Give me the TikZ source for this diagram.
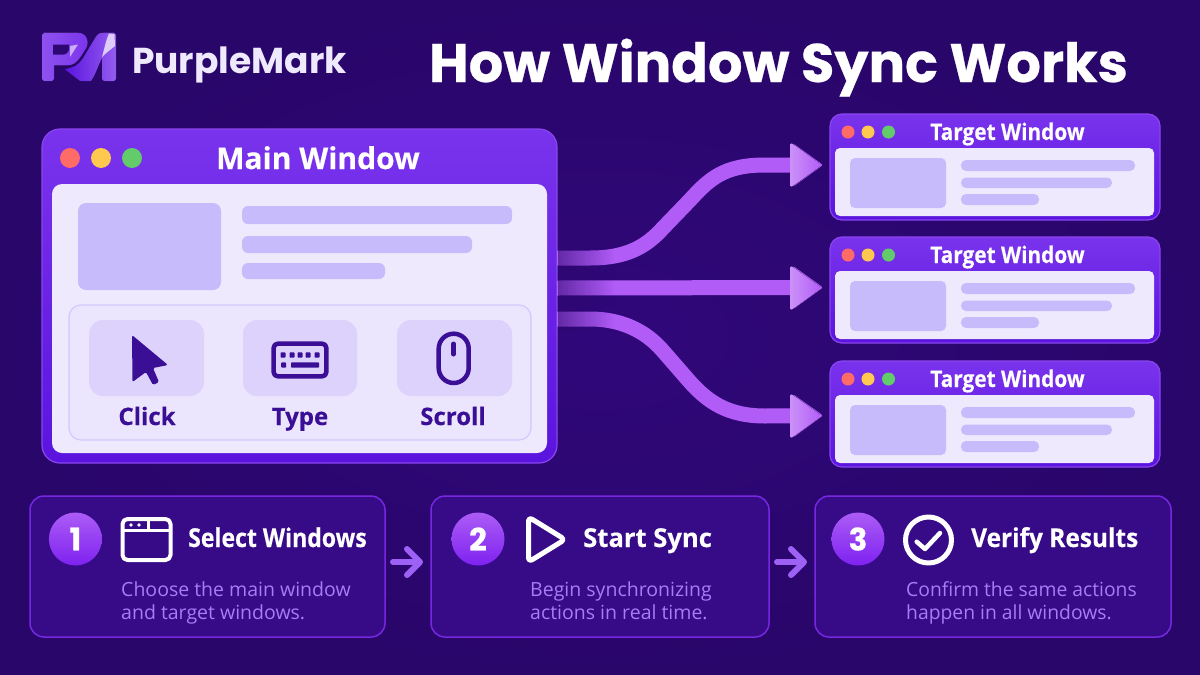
\documentclass[tikz,border=0pt]{standalone}
\usepackage{fontspec}
\setmainfont[BoldFeatures={FakeBold=0.35}]{Open Sans}
\newfontfamily\headfont[BoldFeatures={FakeBold=0.5}]{Poppins}
\newfontfamily\brandfont{Poppins}
\usetikzlibrary{arrows.meta,fadings,calc}
\definecolor{bgc}{HTML}{2E0872}
\definecolor{bgedge}{HTML}{29066A}
\definecolor{bgmid}{HTML}{30077A}
\definecolor{panel}{HTML}{EFE9FE}
\definecolor{ph}{HTML}{C8BBFB}
\definecolor{ink}{HTML}{3A0F96}
\definecolor{ribbon}{HTML}{B25CF8}
\definecolor{ribbonl}{HTML}{CB90F8}
\definecolor{stepfill}{HTML}{370A88}
\definecolor{stepline}{HTML}{7628E0}
\definecolor{sub}{HTML}{A87CF4}
\definecolor{steparr}{HTML}{9D62F5}
\definecolor{dotr}{HTML}{FF6B66}
\definecolor{doty}{HTML}{FFC94F}
\definecolor{dotg}{HTML}{62CC6A}
\definecolor{winT}{HTML}{7A33EC}
\definecolor{winB}{HTML}{5A14DE}
\definecolor{winL}{HTML}{8A45F0}
\definecolor{badgeT}{HTML}{AC5CF6}
\definecolor{badgeB}{HTML}{7E22F0}
\tikzset{
  winbox/.style={rectangle,inner sep=0pt,outer sep=0pt,rounded corners=#1,top color=winT,bottom color=winB,draw=winL,line width=1.2pt,anchor=north west},
  stepbox/.style={rectangle,inner sep=0pt,outer sep=0pt,rounded corners=14pt,fill=stepfill,draw=stepline,line width=1.5pt,anchor=north west,minimum height=141pt},
  flow/.style={line width=15pt,draw=ribbon,-{Triangle[length=31pt,width=44pt,line width=3pt,round]}},
  steparrow/.style={line width=6pt,draw=#1,line cap=round,-{Straight Barb[length=13pt,width=26pt,line width=6pt,round]}},
  badge/.style={circle,inner sep=0pt,outer sep=0pt,minimum size=53pt,top color=badgeT,bottom color=badgeB,text=white,font=\headfont\bfseries\fontsize{31}{31}\selectfont},
  steptitle/.style={anchor=base west,inner sep=0pt,text=white,font=\bfseries\fontsize{26}{26}\selectfont},
  stepdesc/.style={anchor=north west,inner sep=0pt,text=sub,align=left,font=\fontsize{19.5}{23}\selectfont},
  tilelabel/.style={anchor=base,inner sep=0pt,text=ink,font=\bfseries\fontsize{24}{24}\selectfont},
  icon/.style={draw=white,line width=4pt,line join=round,line cap=round},
  inkicon/.style={draw=ink,line width=4.5pt,line join=round},
}
\newcommand{\headtri}[1]{\fill[left color=ribbonl,right color=ribbon,rounded corners=1.5pt] (790.5,#1-22.5) -- (822,#1) -- (790.5,#1+22.5) -- cycle;}
\begin{document}
\begin{tikzpicture}[x=1pt,y=-1pt]
\useasboundingbox (0,0) rectangle (1200,675);
\shade[inner color=bgmid,outer color=bgedge] (0,0) rectangle (1200,675);

% logo mark
\fill[left color=winT!85!white,right color=winT] (42,35) to[out=-90,in=180] (44,32.7) -- (78,32.7) .. controls (88,32.7) and (90,44) .. (85,50) .. controls (80,58) and (76,65.3) .. (68,65.3) -- (54,65.3) -- (54,79) to[out=90,in=0] (52,81) -- (44,81) to[out=180,in=90] (42,79) -- cycle;
\fill[bgc] (53,44.5) -- (69,44.5) .. controls (70,50) and (68,54) .. (64,54.5) -- (53,54.5) -- cycle;
\fill[left color=winB,right color=winT!80!white] (64.3,69) .. controls (72,68) and (78,66) .. (83,58) -- (95,38) .. controls (98,33) and (100,32.7) .. (104,32.7) -- (114,32.7) to[out=0,in=-90] (116,35) -- (116,79) to[out=90,in=0] (114,81) -- (104,81) to[out=180,in=90] (102,79) -- (102,58) .. controls (98,66) and (95,76) .. (91,81) -- (80,81) -- cycle;
\fill[white!75!winT] (109,33.5) -- (114.5,34) -- (115,46) .. controls (110,50) and (106,53) .. (102,57) .. controls (104,50) and (106,40) .. (109,33.5) -- cycle;
\fill[white!60!winT] (70,46) -- (78,44.5) -- (70,57) -- cycle;
\node[anchor=base west,inner sep=0pt,text=panel,font=\brandfont\bfseries\fontsize{36}{36}\selectfont] (brand) at (132,73) {PurpleMark};
\node[anchor=base,inner sep=0pt,text=white,font=\headfont\bfseries\fontsize{54.2}{54}\selectfont] (title) at (778.5,82) {How Window Sync Works};

% main window
\node[winbox=18pt,minimum width=515pt,minimum height=334pt] (main) at (42,129) {};
\fill[panel,rounded corners=10pt] (52,184) rectangle (547,453);
\fill[dotr] (70,158) circle (10);
\fill[doty] (101,158) circle (10);
\fill[dotg] (132,158) circle (10);
\node[anchor=base,inner sep=0pt,text=white,font=\bfseries\fontsize{30}{30}\selectfont] (maintitle) at (318,169) {Main Window};
\fill[ph,rounded corners=8pt] (78,203) rectangle (221,290);
\fill[ph,rounded corners=6pt] (242,206) rectangle (512,224);
\fill[ph,rounded corners=6pt] (242,236) rectangle (472,253);
\fill[ph,rounded corners=6pt] (242,263) rectangle (385,279);
\filldraw[fill=panel!92!ph,draw=ph!80!white,line width=1.2pt,rounded corners=12pt] (69,305) rectangle (531,440);
\foreach \xa/\xb in {89/204,243/357,397/512}{\fill[ph!50!panel,rounded corners=14pt] (\xa,320) rectangle (\xb,396);}
\fill[ink,rounded corners=1.5pt] (132,335) -- (168,365) -- (153,368) -- (159,382) -- (153,385) -- (146,372) -- (132.5,382) -- cycle;
\draw[inkicon,rounded corners=4pt] (273.7,343.7) rectangle (326.3,376.3);
\foreach \x in {283,292,300,308,317}{\fill[ink,rounded corners=.8pt] (\x-2.5,352.4) rectangle (\x+2.5,357.6);}
\fill[ink,rounded corners=.8pt] (281.2,362.4) rectangle (286.2,367.6);
\fill[ink,rounded corners=.8pt] (291,362.4) rectangle (319,367.6);
\draw[inkicon,rounded corners=15pt] (438.7,333.7) rectangle (468.7,383);
\draw[ink,line width=5pt,line cap=round] (453.5,344) -- (453.5,354);
\node[tilelabel] (click) at (147,425) {Click};
\node[tilelabel] (type) at (300,425) {Type};
\node[tilelabel] (scroll) at (453,425) {Scroll};

% target windows
\foreach \i/\y in {1/114,2/237,3/361}{
\begin{scope}[shift={(0,\y)}]
\node[winbox=12pt,minimum width=330pt,minimum height=106pt] (t\i) at (830,0) {};
\fill[panel,rounded corners=5pt] (835,34) rectangle (1154,102);
\fill[dotr] (848,18) circle (6.5);
\fill[doty] (868,18) circle (6.5);
\fill[dotg] (888.5,18) circle (6.5);
\node[anchor=base,inner sep=0pt,text=white,font=\bfseries\fontsize{23}{23}\selectfont] (tt\i) at (1007.5,26) {\scalebox{.905}[1]{Target Window}};
\fill[ph,rounded corners=5pt] (850,44) rectangle (946,94);
\fill[ph,rounded corners=5pt] (961,46) rectangle (1135,57);
\fill[ph,rounded corners=5pt] (961,63.5) rectangle (1112,74);
\fill[ph,rounded corners=5pt] (961,80) rectangle (1039,91);
\end{scope}}

% connectors, from the main window to each target window
\draw[flow] ([shift={(0,-38)}]main.east) -- (590,258) .. controls (625,258) and (645,248) .. (663,228) -- (690,200) .. controls (710,178) and (725,165) .. (765,165) -- ([shift={(-8,-2)}]t1.west);
\draw[flow] ([shift={(0,-8)}]main.east) -- ([shift={(-8,-2.5)}]t2.west);
\draw[flow] ([shift={(0,23)}]main.east) -- (590,319) .. controls (620,319) and (645,330) .. (663,351) -- (690,382) .. controls (708,402) and (728,416) .. (765,416) -- ([shift={(-8,1.5)}]t3.west);
\headtri{165}\headtri{288}\headtri{416}
\fill[bgc,path fading=east,fill opacity=.6] (557.8,245) rectangle (615,332);

% steps
\node[stepbox,minimum width=355pt] (s1) at (30,496) {};
\node[stepbox,minimum width=338pt] (s2) at (431,496) {};
\node[stepbox,minimum width=356pt] (s3) at (815,496) {};
\draw[steparrow=steparr] ([shift={(8,-4.5)}]s1.east) -- ([shift={(-8,-4.5)}]s2.west);
\draw[steparrow=steparr] ([shift={(8,-4.5)}]s2.east) -- ([shift={(-8,-4.5)}]s3.west);

\node[badge] (b1) at (75.4,539) {1};
\node[badge] (b2) at (478,539) {2};
\node[badge] (b3) at (858,539) {3};

% icons
\draw[icon,rounded corners=5pt] (122.5,519) rectangle (170.5,560);
\draw[icon,line width=3pt] (122.5,530) -- (170.5,530);
\draw[icon,line width=3pt] (148,519) -- (148,530);
\fill[white] (131,525) circle (1.8) (139,525) circle (1.8);
\draw[icon,line width=5pt,rounded corners=4pt] (528.5,517) -- (565,539.5) -- (528.5,562) -- cycle;
\draw[icon,line width=5pt] (928.5,540) circle (23);
\draw[icon,line width=4.5pt] (916.7,541.7) -- (925,549) -- (940,533);

\node[steptitle] (h1) at (188,547) {\scalebox{.885}[1]{Select Windows}};
\node[steptitle] (h2) at (583,547) {\scalebox{.985}[1]{Start Sync}};
\node[steptitle] (h3) at (971,547) {\scalebox{.94}[1]{Verify Results}};
\node[stepdesc] (d1) at (121,581) {Choose the main window\\and target windows.};
\node[stepdesc] (d2) at (530,581) {Begin synchronizing\\actions in real time.};
\node[stepdesc] (d3) at (906,581) {\scalebox{.99}[1]{Confirm the same actions}\\\scalebox{.99}[1]{happen in all windows.}};
\end{tikzpicture}
\end{document}
